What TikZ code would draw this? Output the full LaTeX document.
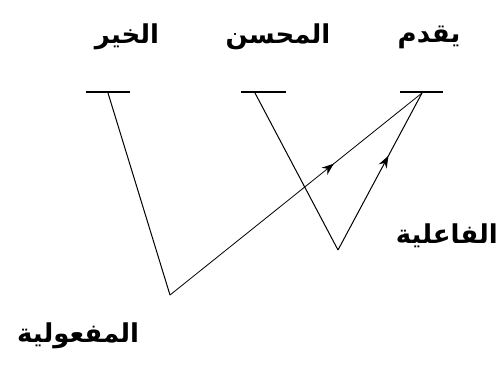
\documentclass[tikz,border=0pt]{standalone}
\usepackage{fontspec}
\newfontfamily\arabicfont[Script=Arabic]{DejaVu Sans}
\TeXXeTstate=1
\usetikzlibrary{arrows.meta,decorations.markings}
\begin{document}
\begin{tikzpicture}[x=1pt,y=-1pt,
  word/.style={font=\arabicfont\bfseries\fontsize{26}{30}\selectfont, inner sep=0pt},
  bar/.style={line width=1.4pt},
  link/.style={line width=1pt},
  midarrow/.style={postaction={decorate},decoration={markings,
     mark=at position #1 with {\arrow{Stealth[length=12pt,width=9pt]}}}}]
\useasboundingbox (0,0) rectangle (500,365);
% words
\node[word] (w1) at (127,37) {\beginR الخير\endR};
\node[word] (w2) at (278,37) {\beginR المحسن\endR};
\node[word] (w3) at (429,37) {\beginR يقدم\endR};
\node[word,anchor=east] (fa) at (498,236) {\beginR الفاعلية\endR};
\node[word,anchor=west] (maf) at (17,336) {\beginR المفعولية\endR};
% bars
\coordinate (b1l) at (86,92); \coordinate (b1r) at (130,92);
\coordinate (b2l) at (241,92); \coordinate (b2r) at (286,92);
\coordinate (b3l) at (400,92); \coordinate (b3r) at (443,92);
\draw[bar] (b1l) -- (b1r);
\draw[bar] (b2l) -- (b2r);
\draw[bar,line width=2.2pt] (b3l) -- (b3r);
% points
\coordinate (p1) at (108,93);
\coordinate (p2) at (255,93);
\coordinate (p3) at (422,93);
\coordinate (v1) at (170,295);
\coordinate (v2) at (338,250);
% lines
\draw[link] (p1) -- (v1);
\draw[line width=0.8pt,midarrow=0.65] (v1) -- (p3);
\draw[link] (p2) -- (v2);
\draw[link,midarrow=0.6] (v2) -- (p3);
\end{tikzpicture}
\end{document}
